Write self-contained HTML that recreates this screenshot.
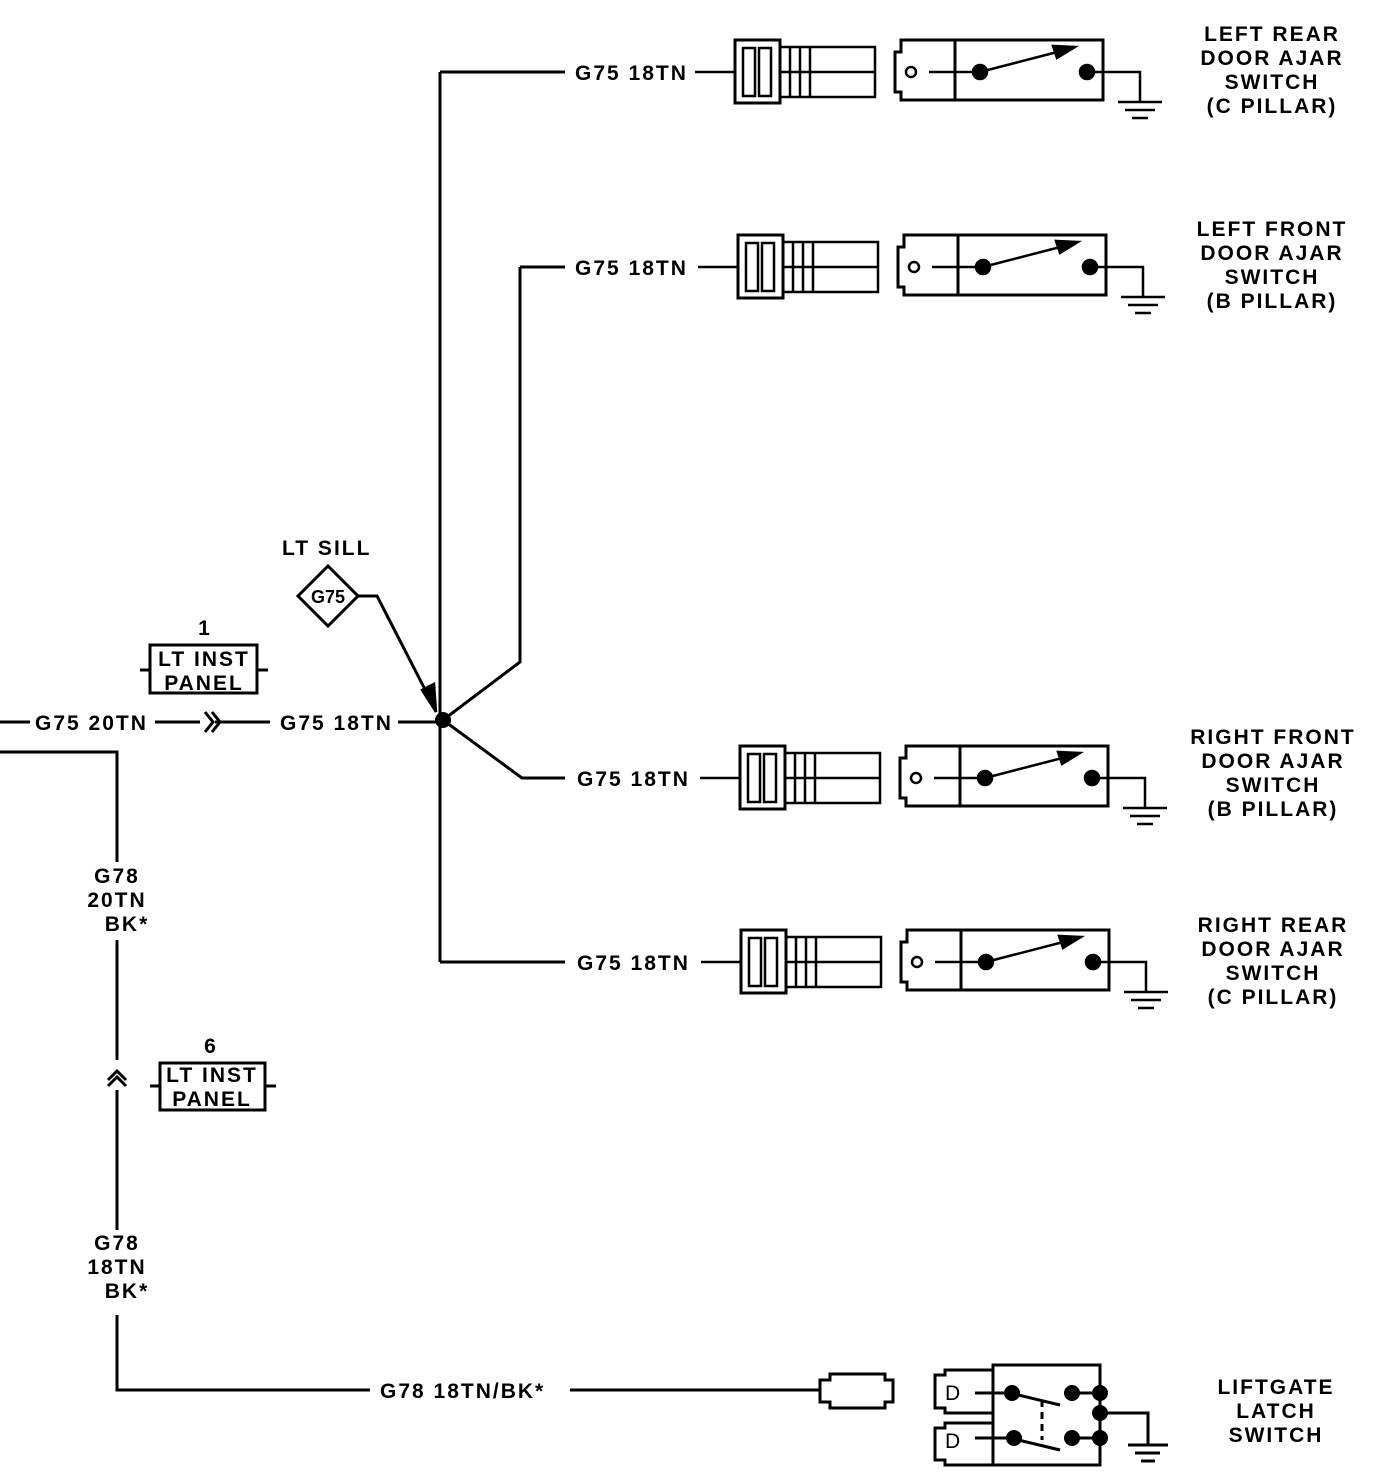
<!DOCTYPE html><html><head><style>body{margin:0;background:#fff}svg{display:block}text{font-family:"Liberation Sans",sans-serif;font-weight:bold;font-size:21px;fill:#000;letter-spacing:2px}</style></head><body>
<svg width="1376" height="1472" viewBox="0 0 1376 1472" xmlns="http://www.w3.org/2000/svg" stroke="#000" stroke-width="2.5" fill="none">
<defs>
<g id="cs">
<path d="M-40 0H0"/>
<rect x="0" y="-32" width="45" height="63" stroke-width="3"/>
<rect x="8" y="-24" width="12" height="48"/>
<rect x="24" y="-24" width="12" height="48"/>
<path d="M45 -25H140V25H45M45 0H140M55 -25V25M65 -25V25M75 -25V25"/>
<path d="M220 -32H166V-20H160V20H166V28H220" stroke-width="3"/>
<circle cx="176" cy="0" r="5"/>
<path d="M194 0H245"/>
<rect x="220" y="-32" width="148" height="60" stroke-width="3"/>
<circle cx="245" cy="0" r="7" fill="#000"/>
<circle cx="352" cy="0" r="7" fill="#000"/>
<path d="M245 0L330 -22"/>
<path d="M340 -25L318 -26L322 -14Z" fill="#000"/>
<path d="M352 0H405V30M383 30H427M390 38H420M397 46H413"/>
</g>
</defs>
<use href="#cs" x="735" y="72"/>
<use href="#cs" x="738" y="267"/>
<use href="#cs" x="740" y="778"/>
<use href="#cs" x="741" y="962"/>
<g stroke-width="3">
<path d="M440 72V962M440 72H565M440 962H565M520 267H565M520 267V662L443 720L522 778H565"/>
<path d="M0 722H30M155 722H200M215 722H270M398 722H443"/>
<path d="M205 712L213 722L205 732M212 712L220 722L212 732"/>
<path d="M0 752H117V862M117 940V1060M117 1090V1230M117 1315V1390H370M570 1390H810"/>
<path d="M108 1086L117 1077L126 1086M108 1080L117 1071L126 1080"/>
<rect x="150" y="645" width="107" height="48"/><path d="M140 670H150M257 670H268"/>
<rect x="160" y="1063" width="105" height="47"/><path d="M150 1086H160M265 1086H276"/>
<path d="M328 566L358 596L328 626L298 596Z"/>
<path d="M358 596H377L433 705"/>
</g>
<path d="M436 712L422 690L434 684Z" fill="#000"/>
<circle cx="443" cy="720" r="8" fill="#000" stroke="none"/>
<g stroke-width="3">
<path d="M810 1390H820V1380H830V1374H885V1380H893V1402H885V1408H830V1402H820V1390"/>
<path d="M993 1370H945V1375H935V1408H945V1413H993M993 1423H945V1428H935V1460H945V1465H993"/>
<rect x="993" y="1365" width="107" height="100"/>
<path d="M975 1393H1010L1060 1405M975 1438H1010L1060 1450M1072 1393H1100M1072 1438H1100M1100 1413H1148V1445M1128 1445H1168M1135 1453H1160M1141 1461H1155"/>
<path d="M1042 1400V1440" stroke-dasharray="7 5"/>
</g>
<g fill="#000" stroke="none">
<circle cx="1012" cy="1393" r="8"/><circle cx="1072" cy="1393" r="8"/><circle cx="1100" cy="1393" r="8"/><circle cx="1100" cy="1413" r="8"/><circle cx="1100" cy="1438" r="8"/><circle cx="1014" cy="1438" r="8"/><circle cx="1072" cy="1438" r="8"/>
</g>
<g stroke="none">
<text x="945" y="1400" style="font-weight:normal">D</text><text x="945" y="1448" style="font-weight:normal">D</text>
<text x="575" y="80">G75 18TN</text>
<text x="575" y="275">G75 18TN</text>
<text x="577" y="786">G75 18TN</text>
<text x="577" y="970">G75 18TN</text>
<text x="35" y="730">G75 20TN</text>
<text x="280" y="730">G75 18TN</text>
<text x="282" y="555">LT SILL</text>
<text x="328" y="603" text-anchor="middle" style="font-size:18px;letter-spacing:0">G75</text>
<text x="205" y="635" text-anchor="middle">1</text>
<text x="204" y="666" text-anchor="middle">LT INST</text>
<text x="204" y="690" text-anchor="middle">PANEL</text>
<text x="211" y="1053" text-anchor="middle">6</text>
<text x="212" y="1082" text-anchor="middle">LT INST</text>
<text x="212" y="1106" text-anchor="middle">PANEL</text>
<text x="117" y="883" text-anchor="middle">G78</text>
<text x="117" y="907" text-anchor="middle">20TN</text>
<text x="127" y="931" text-anchor="middle">BK*</text>
<text x="117" y="1250" text-anchor="middle">G78</text>
<text x="117" y="1274" text-anchor="middle">18TN</text>
<text x="127" y="1298" text-anchor="middle">BK*</text>
<text x="380" y="1398">G78 18TN/BK*</text>
<g text-anchor="middle">
<text x="1272" y="41">LEFT REAR</text><text x="1272" y="65">DOOR AJAR</text><text x="1272" y="89">SWITCH</text><text x="1272" y="113">(C PILLAR)</text>
<text x="1272" y="236">LEFT FRONT</text><text x="1272" y="260">DOOR AJAR</text><text x="1272" y="284">SWITCH</text><text x="1272" y="308">(B PILLAR)</text>
<text x="1273" y="744">RIGHT FRONT</text><text x="1273" y="768">DOOR AJAR</text><text x="1273" y="792">SWITCH</text><text x="1273" y="816">(B PILLAR)</text>
<text x="1273" y="932">RIGHT REAR</text><text x="1273" y="956">DOOR AJAR</text><text x="1273" y="980">SWITCH</text><text x="1273" y="1004">(C PILLAR)</text>
<text x="1276" y="1394">LIFTGATE</text><text x="1276" y="1418">LATCH</text><text x="1276" y="1442">SWITCH</text>
</g>
</g>
</svg></body></html>
